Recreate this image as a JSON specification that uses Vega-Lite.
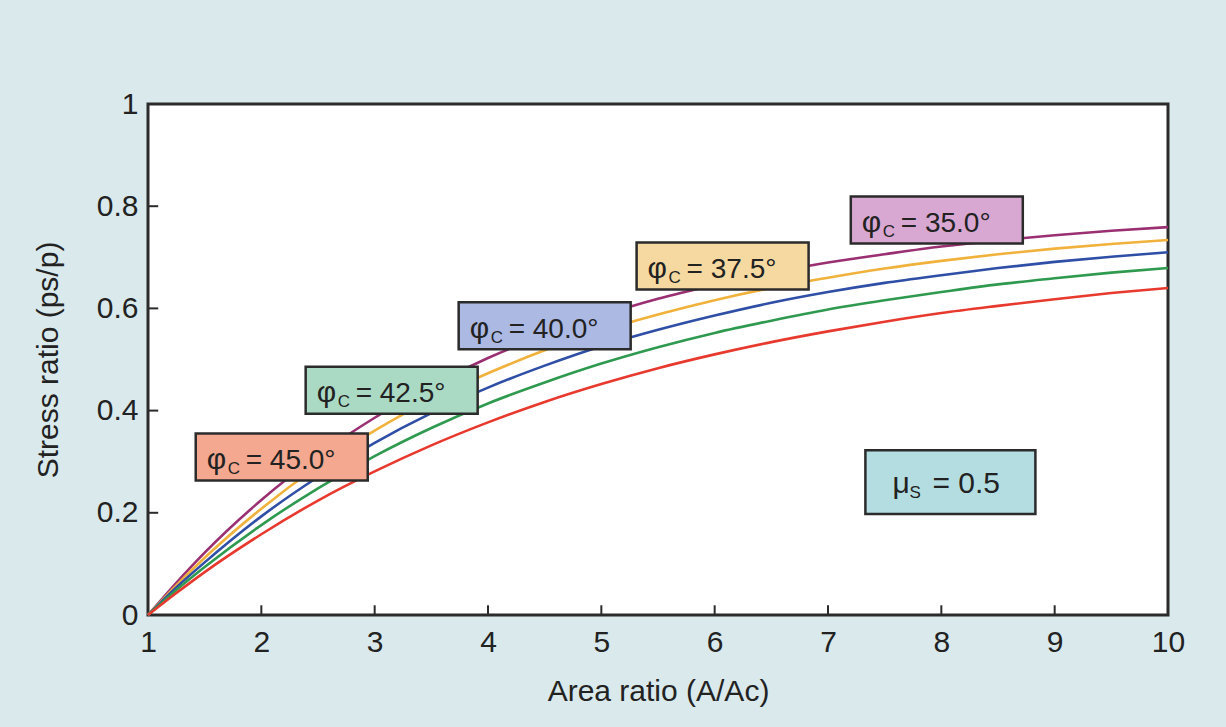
{
  "$schema": "https://vega.github.io/schema/vega-lite/v6.json",
  "width": 1020,
  "height": 511,
  "autosize": {"type": "none"},
  "padding": {"left": 148, "top": 104, "right": 58, "bottom": 112},
  "background": "#d9e9ec",
  "config": {
    "view": {"fill": "white", "stroke": "#2b2b2b", "strokeWidth": 3},
    "font": "Liberation Sans, sans-serif",
    "axis": {
      "domain": false,
      "grid": false,
      "ticks": false,
      "labelFlush": false,
      "labelColor": "#222",
      "labelFontSize": 30,
      "labelFont": "Liberation Sans, sans-serif",
      "titleFont": "Liberation Sans, sans-serif",
      "titleFontSize": 30,
      "titleFontWeight": "normal",
      "titleColor": "#222"
    }
  },
  "datasets": {
    "curves": [
      {"phi": "35.0", "x": 1, "y": 0}, {"phi": "35.0", "x": 1.25, "y": 0.063}, {"phi": "35.0", "x": 1.5, "y": 0.122}, {"phi": "35.0", "x": 2, "y": 0.225}, {"phi": "35.0", "x": 2.5, "y": 0.312}, {"phi": "35.0", "x": 3, "y": 0.386}, {"phi": "35.0", "x": 3.5, "y": 0.449}, {"phi": "35.0", "x": 4, "y": 0.503}, {"phi": "35.0", "x": 4.5, "y": 0.548}, {"phi": "35.0", "x": 5, "y": 0.586}, {"phi": "35.0", "x": 5.5, "y": 0.619}, {"phi": "35.0", "x": 6, "y": 0.646}, {"phi": "35.0", "x": 6.5, "y": 0.67}, {"phi": "35.0", "x": 7, "y": 0.69}, {"phi": "35.0", "x": 7.5, "y": 0.706}, {"phi": "35.0", "x": 8, "y": 0.721}, {"phi": "35.0", "x": 8.5, "y": 0.733}, {"phi": "35.0", "x": 9, "y": 0.743}, {"phi": "35.0", "x": 9.5, "y": 0.752}, {"phi": "35.0", "x": 10, "y": 0.759},
      {"phi": "37.5", "x": 1, "y": 0}, {"phi": "37.5", "x": 1.25, "y": 0.058}, {"phi": "37.5", "x": 1.5, "y": 0.112}, {"phi": "37.5", "x": 2, "y": 0.208}, {"phi": "37.5", "x": 2.5, "y": 0.291}, {"phi": "37.5", "x": 3, "y": 0.361}, {"phi": "37.5", "x": 3.5, "y": 0.422}, {"phi": "37.5", "x": 4, "y": 0.473}, {"phi": "37.5", "x": 4.5, "y": 0.518}, {"phi": "37.5", "x": 5, "y": 0.556}, {"phi": "37.5", "x": 5.5, "y": 0.588}, {"phi": "37.5", "x": 6, "y": 0.616}, {"phi": "37.5", "x": 6.5, "y": 0.64}, {"phi": "37.5", "x": 7, "y": 0.66}, {"phi": "37.5", "x": 7.5, "y": 0.678}, {"phi": "37.5", "x": 8, "y": 0.693}, {"phi": "37.5", "x": 8.5, "y": 0.706}, {"phi": "37.5", "x": 9, "y": 0.717}, {"phi": "37.5", "x": 9.5, "y": 0.726}, {"phi": "37.5", "x": 10, "y": 0.734},
      {"phi": "40.0", "x": 1, "y": 0}, {"phi": "40.0", "x": 1.25, "y": 0.054}, {"phi": "40.0", "x": 1.5, "y": 0.103}, {"phi": "40.0", "x": 2, "y": 0.193}, {"phi": "40.0", "x": 2.5, "y": 0.27}, {"phi": "40.0", "x": 3, "y": 0.337}, {"phi": "40.0", "x": 3.5, "y": 0.395}, {"phi": "40.0", "x": 4, "y": 0.445}, {"phi": "40.0", "x": 4.5, "y": 0.488}, {"phi": "40.0", "x": 5, "y": 0.526}, {"phi": "40.0", "x": 5.5, "y": 0.558}, {"phi": "40.0", "x": 6, "y": 0.586}, {"phi": "40.0", "x": 6.5, "y": 0.611}, {"phi": "40.0", "x": 7, "y": 0.632}, {"phi": "40.0", "x": 7.5, "y": 0.65}, {"phi": "40.0", "x": 8, "y": 0.665}, {"phi": "40.0", "x": 8.5, "y": 0.679}, {"phi": "40.0", "x": 9, "y": 0.691}, {"phi": "40.0", "x": 9.5, "y": 0.701}, {"phi": "40.0", "x": 10, "y": 0.71},
      {"phi": "42.5", "x": 1, "y": 0}, {"phi": "42.5", "x": 1.25, "y": 0.049}, {"phi": "42.5", "x": 1.5, "y": 0.094}, {"phi": "42.5", "x": 2, "y": 0.176}, {"phi": "42.5", "x": 2.5, "y": 0.248}, {"phi": "42.5", "x": 3, "y": 0.311}, {"phi": "42.5", "x": 3.5, "y": 0.366}, {"phi": "42.5", "x": 4, "y": 0.414}, {"phi": "42.5", "x": 4.5, "y": 0.455}, {"phi": "42.5", "x": 5, "y": 0.492}, {"phi": "42.5", "x": 5.5, "y": 0.524}, {"phi": "42.5", "x": 6, "y": 0.552}, {"phi": "42.5", "x": 6.5, "y": 0.576}, {"phi": "42.5", "x": 7, "y": 0.598}, {"phi": "42.5", "x": 7.5, "y": 0.616}, {"phi": "42.5", "x": 8, "y": 0.632}, {"phi": "42.5", "x": 8.5, "y": 0.647}, {"phi": "42.5", "x": 9, "y": 0.659}, {"phi": "42.5", "x": 9.5, "y": 0.67}, {"phi": "42.5", "x": 10, "y": 0.679},
      {"phi": "45.0", "x": 1, "y": 0}, {"phi": "45.0", "x": 1.25, "y": 0.043}, {"phi": "45.0", "x": 1.5, "y": 0.084}, {"phi": "45.0", "x": 2, "y": 0.158}, {"phi": "45.0", "x": 2.5, "y": 0.224}, {"phi": "45.0", "x": 3, "y": 0.281}, {"phi": "45.0", "x": 3.5, "y": 0.332}, {"phi": "45.0", "x": 4, "y": 0.377}, {"phi": "45.0", "x": 4.5, "y": 0.417}, {"phi": "45.0", "x": 5, "y": 0.452}, {"phi": "45.0", "x": 5.5, "y": 0.483}, {"phi": "45.0", "x": 6, "y": 0.51}, {"phi": "45.0", "x": 6.5, "y": 0.534}, {"phi": "45.0", "x": 7, "y": 0.555}, {"phi": "45.0", "x": 7.5, "y": 0.574}, {"phi": "45.0", "x": 8, "y": 0.591}, {"phi": "45.0", "x": 8.5, "y": 0.605}, {"phi": "45.0", "x": 9, "y": 0.618}, {"phi": "45.0", "x": 9.5, "y": 0.63}, {"phi": "45.0", "x": 10, "y": 0.64}
    ],
    "labels": [
      {"phi": "35.0", "x": 7.96, "y": 0.773, "value": "= 35.0°"},
      {"phi": "37.5", "x": 6.07, "y": 0.683, "value": "= 37.5°"},
      {"phi": "40.0", "x": 4.5, "y": 0.566, "value": "= 40.0°"},
      {"phi": "42.5", "x": 3.15, "y": 0.44, "value": "= 42.5°"},
      {"phi": "45.0", "x": 2.18, "y": 0.309, "value": "= 45.0°"}
    ],
    "mu": [
      {"x": 8.08, "y": 0.26, "value": "= 0.5"}
    ],
    "yticks": [{"v": 0.2}, {"v": 0.4}, {"v": 0.6}, {"v": 0.8}],
    "xticks": [{"v": 2}, {"v": 3}, {"v": 4}, {"v": 5}, {"v": 6}, {"v": 7}, {"v": 8}, {"v": 9}]
  },
  "layer": [
    {
      "data": {"name": "curves"},
      "mark": {"type": "line", "strokeWidth": 2.6, "interpolate": "monotone"},
      "encoding": {
        "x": {
          "field": "x", "type": "quantitative",
          "scale": {"domain": [1, 10], "nice": false, "zero": false},
          "axis": {"values": [1, 2, 3, 4, 5, 6, 7, 8, 9, 10], "format": "~g", "title": "Area ratio (A/Ac)", "labelPadding": 12, "titlePadding": 19}
        },
        "y": {
          "field": "y", "type": "quantitative",
          "scale": {"domain": [0, 1], "nice": false},
          "axis": {"values": [0, 0.2, 0.4, 0.6, 0.8, 1], "format": "~g", "title": "Stress ratio (ps/p)", "labelPadding": 10, "titlePadding": 33}
        },
        "color": {
          "field": "phi", "type": "nominal",
          "scale": {"domain": ["35.0", "37.5", "40.0", "42.5", "45.0"], "range": ["#9a2f72", "#f0b23c", "#2f4ea6", "#2f9a4f", "#e8392e"]},
          "legend": null
        }
      }
    },
    {
      "data": {"name": "yticks"},
      "mark": {"type": "rule", "stroke": "#2b2b2b", "strokeWidth": 2},
      "encoding": {
        "x": {"datum": 1, "type": "quantitative"},
        "x2": {"datum": 1.09},
        "y": {"field": "v", "type": "quantitative"}
      }
    },
    {
      "data": {"name": "xticks"},
      "mark": {"type": "rule", "stroke": "#2b2b2b", "strokeWidth": 2},
      "encoding": {
        "x": {"field": "v", "type": "quantitative"},
        "y": {"datum": 0, "type": "quantitative"},
        "y2": {"datum": 0.019}
      }
    },
    {
      "data": {"name": "labels"},
      "mark": {"type": "point", "shape": "M-1,-0.273L1,-0.273L1,0.273L-1,0.273Z", "size": 29584, "filled": true, "opacity": 1, "stroke": "#2b2b2b", "strokeWidth": 2.5},
      "encoding": {
        "x": {"field": "x", "type": "quantitative"},
        "y": {"field": "y", "type": "quantitative"},
        "fill": {
          "field": "phi", "type": "nominal",
          "scale": {"domain": ["35.0", "37.5", "40.0", "42.5", "45.0"], "range": ["#d8a8d2", "#f6d9a1", "#abb9e3", "#aad9c4", "#f3a88f"]},
          "legend": null
        }
      }
    },
    {
      "data": {"name": "labels"},
      "mark": {"type": "text", "text": "φ", "align": "left", "baseline": "alphabetic", "dx": -75, "dy": 12, "fontSize": 30, "color": "#222"},
      "encoding": {
        "x": {"field": "x", "type": "quantitative"},
        "y": {"field": "y", "type": "quantitative"}
      }
    },
    {
      "data": {"name": "labels"},
      "mark": {"type": "text", "text": "C", "align": "left", "baseline": "alphabetic", "dx": -54, "dy": 17, "fontSize": 17, "color": "#222"},
      "encoding": {
        "x": {"field": "x", "type": "quantitative"},
        "y": {"field": "y", "type": "quantitative"}
      }
    },
    {
      "data": {"name": "labels"},
      "mark": {"type": "text", "align": "left", "baseline": "alphabetic", "dx": -36, "dy": 12, "fontSize": 28, "color": "#222"},
      "encoding": {
        "x": {"field": "x", "type": "quantitative"},
        "y": {"field": "y", "type": "quantitative"},
        "text": {"field": "value"}
      }
    },
    {
      "data": {"name": "mu"},
      "mark": {"type": "point", "shape": "M-1,-0.376L1,-0.376L1,0.376L-1,0.376Z", "size": 28900, "filled": true, "opacity": 1, "fill": "#b4dde1", "stroke": "#2b2b2b", "strokeWidth": 2.5},
      "encoding": {
        "x": {"field": "x", "type": "quantitative"},
        "y": {"field": "y", "type": "quantitative"}
      }
    },
    {
      "data": {"name": "mu"},
      "mark": {"type": "text", "text": "μ", "align": "left", "baseline": "alphabetic", "dx": -58, "dy": 11, "fontSize": 30, "color": "#222"},
      "encoding": {
        "x": {"field": "x", "type": "quantitative"},
        "y": {"field": "y", "type": "quantitative"}
      }
    },
    {
      "data": {"name": "mu"},
      "mark": {"type": "text", "text": "S", "align": "left", "baseline": "alphabetic", "dx": -41, "dy": 16, "fontSize": 17, "color": "#222"},
      "encoding": {
        "x": {"field": "x", "type": "quantitative"},
        "y": {"field": "y", "type": "quantitative"}
      }
    },
    {
      "data": {"name": "mu"},
      "mark": {"type": "text", "align": "left", "baseline": "alphabetic", "dx": -18, "dy": 11, "fontSize": 30, "color": "#222"},
      "encoding": {
        "x": {"field": "x", "type": "quantitative"},
        "y": {"field": "y", "type": "quantitative"},
        "text": {"field": "value"}
      }
    }
  ]
}
